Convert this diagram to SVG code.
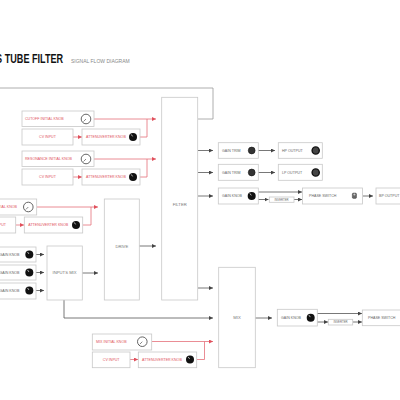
<svg xmlns="http://www.w3.org/2000/svg" width="400" height="400" viewBox="0 0 400 400">
<defs>
<style>
.box{fill:#fff;stroke:#c8c8c8;stroke-width:0.8}
.t{font-family:"Liberation Sans",Arial,sans-serif;font-size:3.6px;fill:#666}
.rt{fill:#e0505c}
.lbl{font-family:"Liberation Sans",Arial,sans-serif;font-size:4.2px;fill:#777;text-anchor:middle}
.ln{stroke:#555;stroke-width:0.8;fill:none}
.rl{stroke:#e4707a;stroke-width:0.8;fill:none}
.kb{fill:#111}
.ko{fill:#fff;stroke:#555;stroke-width:0.9}
.kp{stroke:#fff;stroke-width:0.7}
.kpo{stroke:#555;stroke-width:0.7}
.jack{fill:#444;stroke:#111;stroke-width:1.4}
.trim{fill:#333;stroke:#111;stroke-width:0.6}
</style>
<marker id="ad" viewBox="0 0 4 4" refX="4" refY="2" markerWidth="4" markerHeight="4" markerUnits="userSpaceOnUse" orient="auto"><path d="M0,0L4,2L0,4z" fill="#444"/></marker>
<marker id="ar" viewBox="0 0 4 4" refX="4" refY="2" markerWidth="4" markerHeight="4" markerUnits="userSpaceOnUse" orient="auto"><path d="M0,0L4,2L0,4z" fill="#e0505c"/></marker>
</defs>
<rect width="400" height="400" fill="#fff"/>

<g id="title">
<text x="-5.6" y="63.5" transform="scale(0.7,1)" font-family="'Liberation Sans',Arial,sans-serif" font-size="13" font-weight="bold" fill="#111">S TUBE FILTER</text>
<text x="71" y="63" font-family="'Liberation Sans',Arial,sans-serif" font-size="5" fill="#888">SIGNAL FLOW DIAGRAM</text>
</g>

<g id="connectors">
<!-- top feedback line -->
<polyline class="ln" points="198,119 213,119 213,88 0,88" style="stroke:#999"/>
<!-- cutoff -->
<line class="rl" x1="94" y1="119" x2="156" y2="119" marker-end="url(#ar)"/>
<polyline class="rl" points="140,137 147,137 147,119"/>
<line class="rl" x1="73" y1="137" x2="82" y2="137" marker-end="url(#ar)"/>
<!-- resonance -->
<line class="rl" x1="94" y1="159" x2="156" y2="159" marker-end="url(#ar)"/>
<polyline class="rl" points="140,177 147,177 147,159"/>
<line class="rl" x1="73" y1="177" x2="82" y2="177" marker-end="url(#ar)"/>
<!-- drive -->
<line class="rl" x1="37" y1="207" x2="98" y2="207" marker-end="url(#ar)"/>
<polyline class="rl" points="83,225 91,225 91,207"/>
<line class="rl" x1="16" y1="225" x2="24" y2="225" marker-end="url(#ar)"/>
<!-- mix cv -->
<line class="rl" x1="152" y1="341.5" x2="213" y2="341.5" marker-end="url(#ar)"/>
<polyline class="rl" points="197,359.5 204.5,359.5 204.5,341.5"/>
<line class="rl" x1="130" y1="359.5" x2="138" y2="359.5" marker-end="url(#ar)"/>
<!-- inputs -->
<line class="ln" x1="36" y1="254.5" x2="44" y2="254.5" marker-end="url(#ad)"/>
<line class="ln" x1="36" y1="272.5" x2="44" y2="272.5" marker-end="url(#ad)"/>
<line class="ln" x1="36" y1="290.5" x2="44" y2="290.5" marker-end="url(#ad)"/>
<line class="ln" x1="82" y1="273" x2="98" y2="273" marker-end="url(#ad)"/>
<line class="ln" x1="139" y1="246" x2="156" y2="246" marker-end="url(#ad)"/>
<polyline class="ln" points="64,300 64,318 213,318" marker-end="url(#ad)"/>
<line class="ln" x1="198" y1="288" x2="213" y2="288" marker-end="url(#ad)"/>
<!-- outputs -->
<line class="ln" x1="198" y1="150.5" x2="213" y2="150.5" marker-end="url(#ad)"/>
<line class="ln" x1="258" y1="150.5" x2="275" y2="150.5" marker-end="url(#ad)"/>
<line class="ln" x1="198" y1="172.5" x2="213" y2="172.5" marker-end="url(#ad)"/>
<line class="ln" x1="258" y1="172.5" x2="275" y2="172.5" marker-end="url(#ad)"/>
<line class="ln" x1="198" y1="196" x2="213" y2="196" marker-end="url(#ad)"/>
<line class="ln" x1="258" y1="192" x2="302" y2="192" marker-end="url(#ad)"/>
<line class="ln" x1="258" y1="199.5" x2="268.5" y2="199.5" marker-end="url(#ad)"/>
<line class="ln" x1="294" y1="199.5" x2="302" y2="199.5" marker-end="url(#ad)"/>
<line class="ln" x1="363" y1="196" x2="373" y2="196" marker-end="url(#ad)"/>
<!-- mix out -->
<line class="ln" x1="255" y1="318" x2="272" y2="318" marker-end="url(#ad)"/>
<line class="ln" x1="317" y1="313.5" x2="362" y2="313.5" marker-end="url(#ad)"/>
<line class="ln" x1="317" y1="322" x2="328" y2="322" marker-end="url(#ad)"/>
<line class="ln" x1="353" y1="322" x2="362" y2="322" marker-end="url(#ad)"/>
</g>

<g id="cutoff-initial-knob"><rect class="box" x="22" y="111" width="72" height="15.5"/><text class="t rt" x="25" y="120.2">CUTOFF INITIAL KNOB</text><circle class="ko" cx="86" cy="119" r="4.8"/><line class="kpo" x1="86" y1="119" x2="83.5" y2="121.5"/></g>
<g id="cutoff-cv-input"><rect class="box" x="22" y="129" width="51" height="16"/><text class="t rt" x="47.5" y="138.3" text-anchor="middle">CV INPUT</text></g>
<g id="cutoff-attenuverter"><rect class="box" x="82" y="129" width="58" height="16"/><text class="t rt" x="86" y="138.3">ATTENUVERTER KNOB</text><circle class="kb" cx="133" cy="137" r="4"/><line class="kp" x1="132.6" y1="136.4" x2="131.2" y2="134.4"/></g>

<g id="resonance-initial-knob"><rect class="box" x="22" y="151" width="72" height="15.5"/><text class="t rt" x="25" y="160.2">RESONANCE INITIAL KNOB</text><circle class="ko" cx="86" cy="159" r="4.8"/><line class="kpo" x1="86" y1="159" x2="83.5" y2="161.5"/></g>
<g id="resonance-cv-input"><rect class="box" x="22" y="169" width="51" height="16"/><text class="t rt" x="47.5" y="178.3" text-anchor="middle">CV INPUT</text></g>
<g id="resonance-attenuverter"><rect class="box" x="82" y="169" width="58" height="16"/><text class="t rt" x="86" y="178.3">ATTENUVERTER KNOB</text><circle class="kb" cx="133" cy="177" r="4"/><line class="kp" x1="132.6" y1="176.4" x2="131.2" y2="174.4"/></g>

<g id="drive-initial-knob"><rect class="box" x="-30" y="199" width="66.7" height="16"/><text class="t rt" x="17" y="208.3" text-anchor="end">DRIVE INITIAL KNOB</text><circle class="ko" cx="28.3" cy="207" r="4.8"/><line class="kpo" x1="28.3" y1="207" x2="25.8" y2="209.5"/></g>
<g id="drive-cv-input"><rect class="box" x="-30" y="217" width="45.7" height="16"/><text class="t rt" x="6" y="226.3" text-anchor="end">CV INPUT</text></g>
<g id="drive-attenuverter"><rect class="box" x="24.3" y="217" width="58.4" height="16"/><text class="t rt" x="28.3" y="226.3">ATTENUVERTER KNOB</text><circle class="kb" cx="76" cy="225" r="4"/><line class="kp" x1="75.6" y1="224.4" x2="74.2" y2="222.4"/></g>

<g id="gain-knob-1"><rect class="box" x="-10" y="247" width="46" height="15"/><text class="t" x="19.5" y="255.8" text-anchor="end">GAIN KNOB</text><circle class="kb" cx="29.3" cy="254.5" r="4"/><line class="kp" x1="28.9" y1="253.9" x2="27.5" y2="251.9"/></g>
<g id="gain-knob-2"><rect class="box" x="-10" y="265" width="46" height="15"/><text class="t" x="19.5" y="273.8" text-anchor="end">GAIN KNOB</text><circle class="kb" cx="29.3" cy="272.5" r="4"/><line class="kp" x1="28.9" y1="271.9" x2="27.5" y2="269.9"/></g>
<g id="gain-knob-3"><rect class="box" x="-10" y="283" width="46" height="16"/><text class="t" x="19.5" y="291.8" text-anchor="end">GAIN KNOB</text><circle class="kb" cx="29.3" cy="290.5" r="4"/><line class="kp" x1="28.9" y1="289.9" x2="27.5" y2="287.9"/></g>

<g id="inputs-mix"><rect class="box" x="47" y="246" width="35.3" height="54"/><text class="lbl" x="64.6" y="274.3">INPUTS MIX</text></g>
<g id="drive"><rect class="box" x="104.3" y="199" width="35" height="101"/><text class="lbl" x="121.8" y="247.5">DRIVE</text></g>
<g id="filter"><rect class="box" x="161.7" y="97.3" width="36" height="202.7"/><text class="lbl" x="179.7" y="205.5">FILTER</text></g>
<g id="mix"><rect class="box" x="218.7" y="267.3" width="36.6" height="100.4"/><text class="lbl" x="237" y="319.3">MIX</text></g>

<g id="hp-gain-trim"><rect class="box" x="218.3" y="142.7" width="40" height="15.6"/><text class="t" x="222" y="151.8">GAIN TRIM</text><circle class="trim" cx="251.7" cy="150.5" r="3.4"/></g>
<g id="hp-output"><rect class="box" x="278.3" y="142.7" width="44" height="15.6"/><text class="t" x="282" y="151.8">HP OUTPUT</text><circle class="jack" cx="315.7" cy="150.5" r="3.6"/></g>
<g id="lp-gain-trim"><rect class="box" x="218.3" y="164.3" width="40" height="16"/><text class="t" x="222" y="173.6">GAIN TRIM</text><circle class="trim" cx="251.7" cy="172.5" r="3.4"/></g>
<g id="lp-output"><rect class="box" x="278.3" y="164.3" width="44" height="16"/><text class="t" x="282" y="173.6">LP OUTPUT</text><circle class="jack" cx="315.7" cy="172.5" r="3.6"/></g>
<g id="bp-gain-knob"><rect class="box" x="218.3" y="188" width="40" height="16"/><text class="t" x="222" y="197.3">GAIN KNOB</text><circle class="kb" cx="251.7" cy="196" r="4"/><line class="kp" x1="251.3" y1="195.4" x2="249.9" y2="193.4"/></g>
<g id="bp-inverter"><rect class="box" x="269.3" y="197" width="24.7" height="5.3"/><text class="t" x="281.6" y="200.7" text-anchor="middle" style="font-size:2.8px">INVERTER</text></g>
<g id="bp-phase-switch"><rect class="box" x="302.5" y="188" width="60" height="16"/><text class="t" x="309" y="197.3">PHASE SWITCH</text><rect x="352.3" y="193" width="4.2" height="5.4" rx="1.2" fill="#666" stroke="#333" stroke-width="0.4"/><circle cx="354.4" cy="194.6" r="1" fill="#ccc"/></g>
<g id="bp-output"><rect class="box" x="376" y="188" width="30" height="16"/><text class="t" x="379" y="197.3">BP OUTPUT</text></g>

<g id="mix-gain-knob"><rect class="box" x="277.3" y="309.3" width="40" height="16.7"/><text class="t" x="281" y="319">GAIN KNOB</text><circle class="kb" cx="310.7" cy="317.7" r="4"/><line class="kp" x1="310.3" y1="317.1" x2="308.9" y2="315.1"/></g>
<g id="mix-inverter"><rect class="box" x="328.3" y="319.3" width="24.4" height="5.7"/><text class="t" x="340.5" y="323.2" text-anchor="middle" style="font-size:2.8px">INVERTER</text></g>
<g id="mix-phase-switch"><rect class="box" x="362.3" y="310" width="45" height="15.7"/><text class="t" x="368" y="319.1">PHASE SWITCH</text></g>

<g id="mix-initial-knob"><rect class="box" x="92.3" y="334" width="59.4" height="16"/><text class="t rt" x="96" y="343">MIX INITIAL KNOB</text><circle class="ko" cx="142.3" cy="341.7" r="4.8"/><line class="kpo" x1="142.3" y1="341.7" x2="139.8" y2="344.2"/></g>
<g id="mix-cv-input"><rect class="box" x="92.3" y="352" width="37.7" height="15.7"/><text class="t rt" x="111.2" y="361" text-anchor="middle">CV INPUT</text></g>
<g id="mix-attenuverter"><rect class="box" x="138.3" y="352" width="58.4" height="15.7"/><text class="t rt" x="142" y="361">ATTENUVERTER KNOB</text><circle class="kb" cx="190" cy="359.5" r="4"/><line class="kp" x1="189.6" y1="358.9" x2="188.2" y2="356.9"/></g>
</svg>
